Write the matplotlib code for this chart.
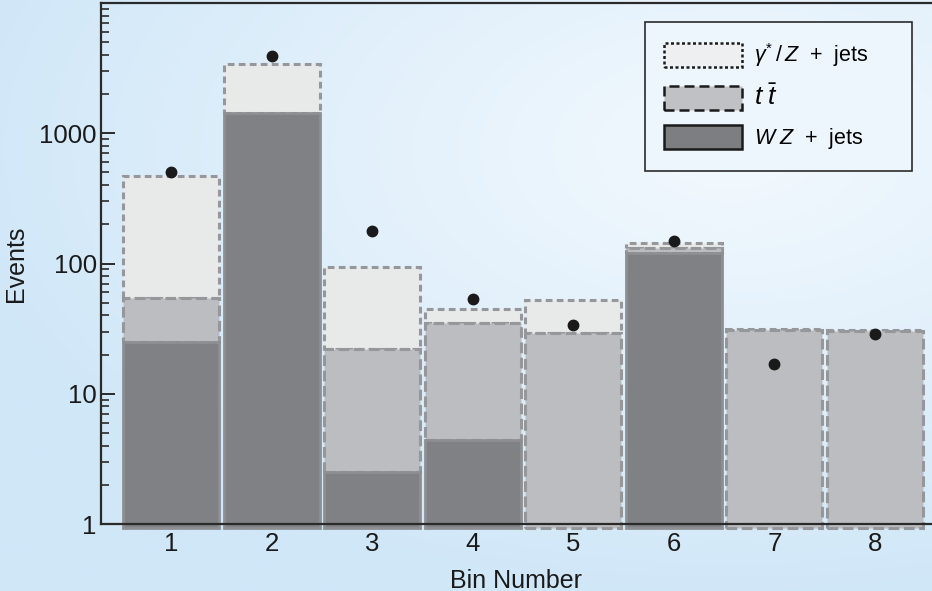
import numpy as np
import matplotlib
matplotlib.use("Agg")
import matplotlib.pyplot as plt
from matplotlib.patches import Patch
from matplotlib.ticker import FixedLocator, NullFormatter, LogLocator

plt.rcParams['font.family'] = ['Liberation Sans', 'DejaVu Sans']
plt.rcParams['mathtext.fontset'] = 'custom'
plt.rcParams['mathtext.it'] = 'Liberation Sans:italic'
plt.rcParams['mathtext.rm'] = 'Liberation Sans'
plt.rcParams['mathtext.cal'] = 'Liberation Sans'
plt.rcParams['mathtext.bf'] = 'Liberation Sans:bold'

# ---- data ----
bins = [1, 2, 3, 4, 5, 6, 7, 8]
wz = [24.8, 1418, 2.5, 4.4, 0, 121, 0, 0]
ttbar = [29.2, 0, 19.5, 30.6, 28.1, 11, 30.2, 29.6]
gamma_z = [415, 1978, 71.7, 9.9, 23.2, 12, 0.5, 0.4]
observed = [507, 3890, 177, 53, 34, 148, 17, 29]
ytick_vals = [1, 10, 100, 1000]
ytick_labels = ["1", "10", "100", "1000"]

fig = plt.figure(figsize=(9.32, 5.91), dpi=100)

# background gradient
bg = fig.add_axes([0, 0, 1, 1], zorder=-10)
H, W = 120, 190
yy, xx = np.mgrid[0:H, 0:W]
d = np.sqrt(((xx / W - 0.78) / 1.0) ** 2 + ((yy / H - 0.25) / 0.9) ** 2)
d = np.clip(d / 0.85, 0, 1)
c_light = np.array([243, 249, 254]) / 255.0
c_dark = np.array([208, 231, 248]) / 255.0
img = c_light[None, None, :] * (1 - d[..., None]) + c_dark[None, None, :] * d[..., None]
bg.imshow(img, aspect='auto', extent=[0, 1, 0, 1], interpolation='bicubic')
bg.axis('off')

ax = fig.add_axes([101 / 932, 67 / 591, 831 / 932, 521 / 591])
ax.set_facecolor('none')
ax.set_yscale('log')
ax.set_ylim(1, 10000)
ax.set_xlim(0.304, 8.567)

base = 0.93
width = 0.955
edge = '#96979a'
x = np.array(bins, dtype=float)
wz_a = np.array(wz, dtype=float)
tt_a = np.array(ttbar, dtype=float)
gz_a = np.array(gamma_z, dtype=float)

wz_top = np.where(wz_a > 0, wz_a, base)
tt_top = wz_top + tt_a
gz_top = tt_top + gz_a

# gamma*/Z (top)
ax.bar(x, gz_top - tt_top, bottom=tt_top, width=width, color='#e8e9e9',
       edgecolor=edge, linewidth=2.2, linestyle=(0, (2.2, 1.4)), zorder=2, clip_on=False)
# ttbar
mask = tt_a > 0
ax.bar(x[mask], (tt_top - wz_top)[mask], bottom=wz_top[mask], width=width, color='#bcbdc0',
       edgecolor=edge, linewidth=2.2, linestyle=(0, (3.5, 1.5)), zorder=3, clip_on=False)
# WZ
m2 = wz_a > 0
ax.bar(x[m2], (wz_top - base)[m2], bottom=base, width=width, color='#808185',
       edgecolor='#8e8f92', linewidth=2.0, zorder=4, clip_on=False)

ax.plot(x, observed, 'o', color='#1a1a1a', markersize=7.5, zorder=6, clip_on=False)

# axes styling
ax.spines['right'].set_visible(False)
for s in ['left', 'bottom', 'top']:
    ax.spines[s].set_color('#2a2a2a')
    ax.spines[s].set_linewidth(1.6)
ax.spines['bottom'].set_zorder(5)

ax.yaxis.set_major_locator(FixedLocator(ytick_vals))
ax.set_yticklabels(ytick_labels)
ax.yaxis.set_minor_locator(LogLocator(base=10, subs=np.arange(2, 10), numticks=20))
ax.yaxis.set_minor_formatter(NullFormatter())
ax.set_xticks(bins)
ax.set_xticklabels([str(b) for b in bins])
ax.tick_params(axis='both', which='major', direction='in', length=10, width=1.4,
               colors='#2a2a2a', labelsize=18.5, labelcolor='#1a1a1a')
ax.tick_params(axis='y', which='minor', direction='in', length=6, width=1.2, colors='#2a2a2a')
ax.tick_params(axis='x', which='major', pad=6)
ax.tick_params(axis='y', which='major', pad=3)
ax.set_xlabel('Bin Number', fontsize=18, color='#1a1a1a', labelpad=9)
ax.set_ylabel('Events', fontsize=18, color='#1a1a1a', labelpad=8)

handles = [
    Patch(facecolor='#eeeff0', edgecolor='#1a1a1a', linewidth=1.8, linestyle=(0, (1.2, 1.0))),
    Patch(facecolor='#c0c1c4', edgecolor='#1a1a1a', linewidth=1.8, linestyle=(0, (4, 2))),
    Patch(facecolor='#7d7e82', edgecolor='#1a1a1a', linewidth=1.8),
]
labels = [r'$\gamma^{*}\,/\,Z$  +  jets' + '\u00a0' * 5, r'$t\;\bar{t}$', r'$W\;Z$  +  jets']
leg = ax.legend(handles, labels, loc='upper right', bbox_to_anchor=(0.976, 0.9635),
                fontsize=15.5, handlelength=3.6, handleheight=1.3, labelspacing=0.7,
                handletextpad=0.55, borderpad=0.9, borderaxespad=0.0, fancybox=False,
                framealpha=1.0, facecolor='#eef6fd', edgecolor='#2a2a2a')
leg.get_frame().set_linewidth(1.2)
leg.get_texts()[1].set_fontsize(19)
leg.set_zorder(10)

fig.savefig('out.png', dpi=100)
